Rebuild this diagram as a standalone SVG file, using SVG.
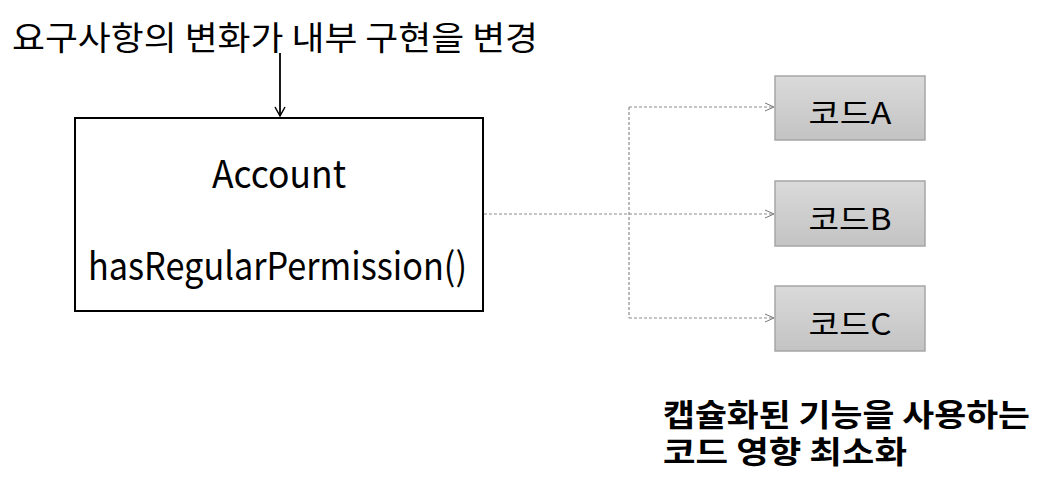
<svg xmlns="http://www.w3.org/2000/svg" width="1061" height="484" viewBox="0 0 1061 484">
<style>
.t{font-family:"Noto Sans CJK KR","Noto Sans",sans-serif;fill:#000}
.dash{fill:none;stroke:#8c8c8c;stroke-width:1.2;stroke-dasharray:3 2}
.code{stroke:#a6a6a6;stroke-width:1.5;fill:url(#g)}
</style>
<defs>
<linearGradient id="g" x1="0" y1="0" x2="0" y2="1">
<stop offset="0" stop-color="#dadada"/>
<stop offset="1" stop-color="#c3c3c3"/>
</linearGradient>
<marker id="open" markerWidth="12" markerHeight="12" refX="10" refY="5" orient="auto" markerUnits="userSpaceOnUse">
<path d="M1,1 L10,5 L1,9" fill="none" stroke="#777" stroke-width="1"/>
</marker>
<marker id="arr" markerWidth="14" markerHeight="14" refX="6" refY="12" orient="0" markerUnits="userSpaceOnUse">
<path d="M1,3 L6,12 L11,3" fill="none" stroke="#000" stroke-width="1.5"/>
</marker>
</defs>
<rect width="1061" height="484" fill="#fff"/>
<g id="title"><text class="t" x="12" y="50" font-size="33" textLength="526" lengthAdjust="spacingAndGlyphs">요구사항의 변화가 내부 구현을 변경</text></g>
<g id="account">
<rect x="75" y="118" width="408" height="193" fill="#fff" stroke="#000" stroke-width="2"/>
<text class="t" x="279" y="188" font-size="38" text-anchor="middle" textLength="134" lengthAdjust="spacingAndGlyphs">Account</text>
<text class="t" x="277.5" y="280" font-size="38" text-anchor="middle" textLength="379" lengthAdjust="spacingAndGlyphs">hasRegularPermission()</text>
</g>
<g id="codeA"><rect class="code" x="775" y="76" width="150" height="64"/><text class="t" x="850" y="124" font-size="30" text-anchor="middle" textLength="83" lengthAdjust="spacingAndGlyphs">코드A</text></g>
<g id="codeB"><rect class="code" x="775" y="181" width="150" height="65"/><text class="t" x="850" y="230" font-size="30" text-anchor="middle" textLength="83" lengthAdjust="spacingAndGlyphs">코드B</text></g>
<g id="codeC"><rect class="code" x="775" y="286" width="150" height="65"/><text class="t" x="850" y="335" font-size="30" text-anchor="middle" textLength="83" lengthAdjust="spacingAndGlyphs">코드C</text></g>
<g id="note">
<text class="t" x="663" y="426" font-size="31" font-weight="bold" textLength="367" lengthAdjust="spacingAndGlyphs">캡슐화된 기능을 사용하는</text>
<text class="t" x="663" y="463" font-size="31" font-weight="bold" textLength="244" lengthAdjust="spacingAndGlyphs">코드 영향 최소화</text>
</g>
<g id="connectors">
<line x1="280" y1="53" x2="280" y2="116" stroke="#000" stroke-width="1.8" marker-end="url(#arr)"/>
<path class="dash" d="M484,214 H629"/>
<path class="dash" d="M629,107 V318"/>
<path class="dash" d="M629,107 H774" marker-end="url(#open)"/>
<path class="dash" d="M629,214 H774" stroke="#222" marker-end="url(#open)"/>
<path class="dash" d="M629,318 H774" marker-end="url(#open)"/>
</g>
</svg>
